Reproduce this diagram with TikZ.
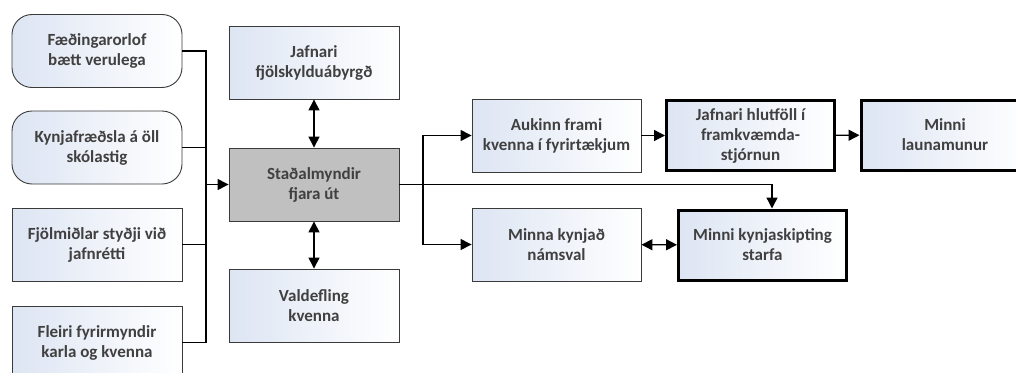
\documentclass[tikz,border=0pt]{standalone}
\usepackage{fontspec}
\setmainfont{Carlito}
\usetikzlibrary{arrows.meta}
\definecolor{boxtext}{HTML}{404040}
\definecolor{boxline}{HTML}{3A3A3A}
\definecolor{tint}{HTML}{DDE5F3}
\definecolor{core}{HTML}{C0C0C0}
\tikzset{
  base/.style={minimum width=170pt, minimum height=73pt, align=center,
    text=boxtext, font=\fontsize{17}{20}\selectfont\bfseries, inner sep=2pt,
    shading angle=135, left color=tint, right color=white},
  plainbox/.style={base, draw=boxline, line width=0.9pt},
  roundbox/.style={plainbox, rounded corners=20pt},
  strongbox/.style={base, draw=black, line width=3pt, minimum width=168pt, minimum height=70pt},
  corebox/.style={base, draw=boxline, line width=0.9pt, left color=core, right color=core},
  link/.style={line width=1.4pt, draw=black},
  arr/.style={link, -{Triangle[length=11pt,width=11pt]}},
  darr/.style={link, {Triangle[length=11pt,width=11pt]}-{Triangle[length=11pt,width=11pt]}}
}
\begin{document}
\begin{tikzpicture}[x=1pt, y=-1pt]
\useasboundingbox (0,0) rectangle (1016,372);
\clip (0,0) rectangle (1016,372);

% left column of causes
\node[roundbox] (f1) at (97,51) {Fæðingarorlof\\bætt verulega};
\node[roundbox] (f2) at (97,147.5) {Kynjafræðsla á öll\\skólastig};
\node[plainbox] (f3) at (97,244.5) {Fjölmiðlar styðji við\\jafnrétti};
\node[plainbox] (f4) at (97,342.5) {Fleiri fyrirmyndir\\karla og kvenna};

% central column
\node[plainbox] (jafn) at (314,62.5) {Jafnari\\fjölskylduábyrgð};
\node[corebox] (stad) at (314,184.5) {Staðalmyndir\\fjara út};
\node[plainbox] (vald) at (314,305.5) {Valdefling\\kvenna};

% outcomes
\node[plainbox, minimum width=169pt] (auk) at (556.5,135.5) {Aukinn frami\\kvenna í fyrirtækjum};
\node[plainbox, minimum width=169pt] (minna) at (556.5,244.5) {Minna kynjað\\námsval};
\node[strongbox] (hlut) at (750.5,135.5) {Jafnari hlutföll í\\framkvæmda-\\stjórnun};
\node[strongbox] (laun) at (945,135) {Minni\\launamunur};
\node[strongbox] (skip) at (762.5,245) {Minni kynjaskipting\\starfa};

% collector bus on the left
\coordinate (bus) at (206,184.5);
\draw[link] (f1.east) -| (bus);
\draw[link] (f2.east) -| (bus);
\draw[link] (f3.east) -| (bus);
\draw[link] (f4.east) -| (bus);
\draw[arr] (bus) -- (stad.west);

\draw[darr] (jafn) -- (stad);
\draw[darr] (stad) -- (vald);

% branching to the right
\coordinate (br) at (423,184.5);
\draw[link] (stad.east) -- (br);
\draw[arr] (br) |- (auk.west);
\draw[arr] (br) |- (minna.west);
\draw[arr] (stad.east) -| ([xshift=9.5pt]skip.north);

\draw[arr] (auk) -- (hlut);
\draw[arr] (hlut) -- (laun);
\draw[darr] (minna) -- (skip);
\end{tikzpicture}
\end{document}
